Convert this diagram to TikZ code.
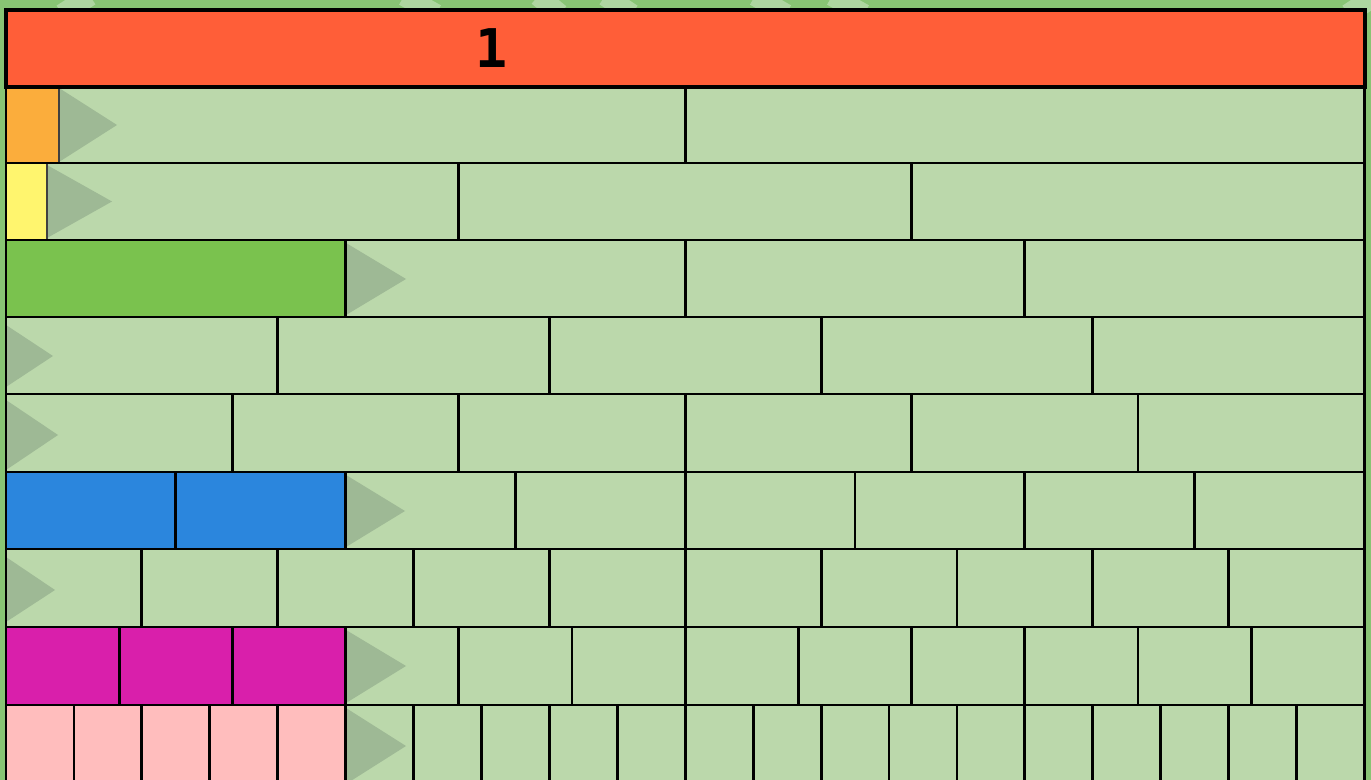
\documentclass[tikz,border=0pt]{standalone}
\usepackage{fontspec}
\setmainfont{DejaVu Serif}
\newfontfamily\digitfont{DejaVu Sans Mono}
\definecolor{bgg}{HTML}{88C474}
\definecolor{wallred}{HTML}{FF5E38}
\definecolor{cellg}{HTML}{BBD8AB}
\definecolor{porange}{HTML}{FBAD3C}
\definecolor{pyellow}{HTML}{FFF56E}
\definecolor{pgreen}{HTML}{7AC24E}
\definecolor{pblue}{HTML}{2B86DD}
\definecolor{pmag}{HTML}{D91FAB}
\definecolor{ppink}{HTML}{FFBDBD}
\definecolor{tri}{HTML}{9EB995}
\tikzset{
  grid line/.style={line width=2.1pt,black},
  piece edge/.style={line width=1.4pt,black!75},
  arrowtri/.style={fill=tri},
  bgarc/.style={white,opacity=0.32,line width=15pt}
}
\begin{document}
\begin{tikzpicture}[x=0.75pt,y=-0.75pt]
\useasboundingbox (0,0) rectangle (1371,780);
\clip (0,0) rectangle (1371,780);
% background
\fill[bgg] (0,0) rectangle (1371,780);
\draw[bgarc] (62,14) -- (90,-4);
\draw[bgarc] (404,-4) -- (436,14);
\draw[bgarc] (538,-4) -- (560,14);
\draw[bgarc] (605,-4) -- (632,14);
\draw[bgarc] (755,-4) -- (786,14);
\draw[bgarc] (832,-4) -- (864,14);
\draw[bgarc] (1348,14) -- (1375,-4);
% wall fills
\fill[cellg] (6,87) rectangle (1364.5,790);
\fill[wallred] (6,10) rectangle (1364.5,87);
% coloured pieces
\fill[porange] (6,87) rectangle (59,163);
\fill[pyellow] (6,163) rectangle (47,240);
\fill[pgreen] (6,240) rectangle (346,317);
\fill[pblue] (6,472) rectangle (346,549);
\fill[pmag] (6,627) rectangle (346,705);
\fill[ppink] (6,705) rectangle (346,790);
% triangles
\fill[arrowtri] (59,88) -- (117,125) -- (59,162) -- cycle;
\fill[arrowtri] (47,165) -- (112,201.5) -- (47,238) -- cycle;
\fill[arrowtri] (346,243) -- (406,279) -- (346,315) -- cycle;
\fill[arrowtri] (6,325) -- (53,356) -- (6,387) -- cycle;
\fill[arrowtri] (6,400) -- (58,435) -- (6,470) -- cycle;
\fill[arrowtri] (346,475) -- (405,511) -- (346,547) -- cycle;
\fill[arrowtri] (6,557) -- (55,590) -- (6,622) -- cycle;
\fill[arrowtri] (346,630) -- (406,666) -- (346,703) -- cycle;
\fill[arrowtri] (346,708) -- (406,746) -- (346,784) -- cycle;
% piece edges not on dividers
\draw[piece edge] (59,87) -- (59,163);
\draw[piece edge] (47,163) -- (47,240);
\draw[grid line] (346,240) -- (346,317);
\draw[grid line] (346,472) -- (346,549);
\draw[grid line] (346,627) -- (346,705);
\draw[grid line] (346,705) -- (346,790);
% dividers
\foreach \n/\yt/\yb in {2/87/163,3/163/240,4/240/317,5/317/394,6/394/472,8/472/549,10/549/627,12/627/705,20/705/790}{
  \pgfmathtruncatemacro\m{\n-1}
  \foreach \i in {1,...,\m}{
    \pgfmathsetmacro\xx{6+(1358.5/\n)*\i}
    \draw[grid line] (\xx,\yt) -- (\xx,\yb);
  }
}
% horizontal lines
\foreach \yy in {163,240,317,394,472,549,627,705}{
  \draw[grid line] (6,\yy) -- (1364.5,\yy);
}
\draw[grid line] (6,87) -- (6,790);
\draw[grid line] (1364.5,87) -- (1364.5,790);
% top row
\draw[line width=3pt,black] (6,10) rectangle (1364.5,87);
\node[font=\digitfont\fontsize{40}{42}\selectfont\bfseries] (one) at (492,48) {1};
\end{tikzpicture}
\end{document}
